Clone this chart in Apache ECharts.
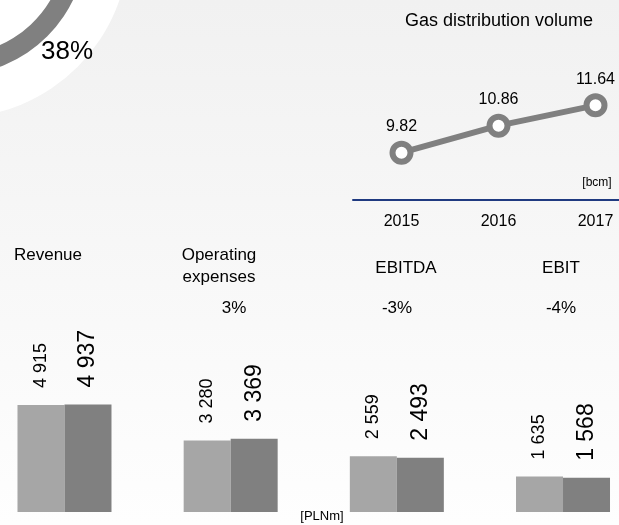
<!DOCTYPE html>
<html><head><meta charset="utf-8">
<script src="https://cdn.jsdelivr.net/npm/echarts@6/dist/echarts.min.js"></script>
<style>html,body{margin:0;padding:0;background:#fff}#c{width:619px;height:525px}</style>
</head><body><div id="c"></div>
<script>
// ---- data ----
const years = ['2015', '2016', '2017'];
const gasVolume = [9.82, 10.86, 11.64];
const categories = ['Revenue', 'Operating\nexpenses', 'EBITDA', 'EBIT'];
const values2016 = [4915, 3280, 2559, 1635];
const values2017 = [4937, 3369, 2493, 1568];
const changes = ['', '3%', '-3%', '-4%'];
const shareValues = [38, 62];
const shareLabel = '38%';
const gasTitle = 'Gas distribution volume';
const gasUnit = '[bcm]';
const barUnit = '[PLNm]';

const FONT = '"Liberation Sans", Arial, sans-serif';
const fmt = v => String(v).replace(/\B(?=(\d{3})+(?!\d))/g, ' ');

const chart = echarts.init(document.getElementById('c'), null, {renderer: 'canvas'});

// text annotation placement (layout only)
const catPos = [[48, 244], [219, 244], [406, 257], [561, 257]];
const chgPos = [[64, 308], [234, 308], [397, 308], [561, 308]];

const graphics = [];
categories.forEach((c, i) => {
  graphics.push({type: 'text', x: catPos[i][0], y: catPos[i][1], silent: true,
    style: {text: c, font: '17px ' + FONT, fill: '#000', align: 'center', verticalAlign: 'top', lineHeight: 22}});
});
changes.forEach((c, i) => {
  if (!c) return;
  graphics.push({type: 'text', x: chgPos[i][0], y: chgPos[i][1], silent: true,
    style: {text: c, font: '17px ' + FONT, fill: '#000', align: 'center', verticalAlign: 'middle'}});
});
graphics.push({type: 'text', x: 67, y: 52, silent: true, z: 10,
  style: {text: shareLabel, font: '26px ' + FONT, fill: '#000', align: 'center', verticalAlign: 'middle'}});
graphics.push({type: 'text', x: 499, y: 21, silent: true,
  style: {text: gasTitle, font: '18px ' + FONT, fill: '#000', align: 'center', verticalAlign: 'middle'}});
graphics.push({type: 'text', x: 597, y: 183, silent: true,
  style: {text: gasUnit, font: '12px ' + FONT, fill: '#000', align: 'center', verticalAlign: 'middle'}});
graphics.push({type: 'text', x: 322, y: 516, silent: true,
  style: {text: barUnit, font: '13px ' + FONT, fill: '#000', align: 'center', verticalAlign: 'middle'}});

const option = {
  animation: false,
  backgroundColor: {type: 'linear', x: 0, y: 0, x2: 0, y2: 1,
    colorStops: [{offset: 0, color: '#f1f1f1'}, {offset: 1, color: '#fefefe'}]},
  textStyle: {fontFamily: FONT},
  grid: [
    {left: 353, width: 291, top: 96, height: 104, outerBoundsMode: 'none', containLabel: false},
    {left: -18.6, width: 664.7, top: 294.3, height: 217.7, outerBoundsMode: 'none', containLabel: false}
  ],
  xAxis: [
    {type: 'category', gridIndex: 0, data: years, boundaryGap: true,
      axisLine: {show: true, lineStyle: {color: '#1f3a80', width: 2}},
      axisTick: {show: false},
      axisLabel: {color: '#000', fontSize: 16, margin: 14, fontFamily: FONT},
      splitLine: {show: false}},
    {type: 'category', gridIndex: 1, data: categories,
      axisLine: {show: false}, axisTick: {show: false}, axisLabel: {show: false}, splitLine: {show: false}}
  ],
  yAxis: [
    {type: 'value', gridIndex: 0, min: 8, max: 12, show: false, splitLine: {show: false}},
    {type: 'value', gridIndex: 1, min: 0, max: 10000, show: false, splitLine: {show: false}}
  ],
  series: [
    {type: 'pie', silent: true, center: [-46, -57], radius: [0, 175], data: [1],
      itemStyle: {color: '#ffffff'}, label: {show: false}, labelLine: {show: false}, z: 0},
    {type: 'pie', silent: true, center: [-46, -57], radius: [112, 132], startAngle: 0, clockwise: true,
      data: shareValues.map((v, i) => ({value: v, itemStyle: {color: i === 0 ? '#808080' : '#d0d0d0'}})),
      label: {show: false}, labelLine: {show: false}, z: 1},
    {type: 'line', xAxisIndex: 0, yAxisIndex: 0, data: gasVolume,
      lineStyle: {color: '#808080', width: 6},
      symbol: 'circle', symbolSize: 18,
      itemStyle: {color: '#ffffff', borderColor: '#808080', borderWidth: 6},
      label: {show: true, position: 'top', distance: 6, color: '#000', fontSize: 16, fontFamily: FONT,
        formatter: p => p.value.toFixed(2)},
      z: 5},
    {type: 'bar', xAxisIndex: 1, yAxisIndex: 1, data: values2016, barWidth: 47, barGap: '0%',
      itemStyle: {color: '#a6a6a6'},
      label: {show: true, position: 'top', rotate: 90, align: 'left', verticalAlign: 'middle', distance: 17,
        color: '#000', fontSize: 18, fontFamily: FONT, formatter: p => fmt(p.value)}},
    {type: 'bar', xAxisIndex: 1, yAxisIndex: 1, data: values2017, barWidth: 47, barGap: '0%',
      itemStyle: {color: '#808080'},
      label: {show: true, position: 'top', rotate: 90, align: 'left', verticalAlign: 'middle', distance: 17,
        color: '#000', fontSize: 23, fontFamily: FONT, formatter: p => fmt(p.value)}}
  ],
  graphic: graphics
};
chart.setOption(option);
</script>
</body></html>
